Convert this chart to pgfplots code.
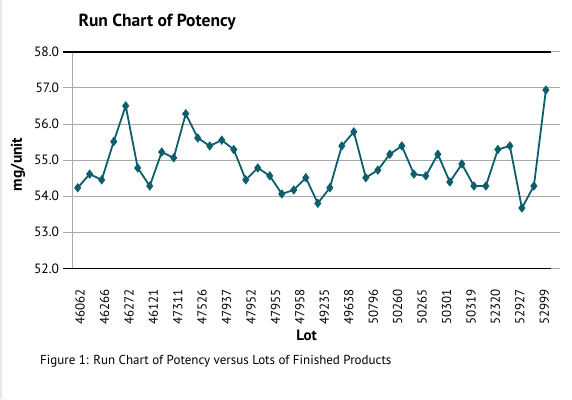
\documentclass[border=0pt]{standalone}
\usepackage{fontspec}
\setmainfont{PT Sans}
\usepackage{pgfplots}
\pgfplotsset{compat=1.18}
\definecolor{tealA}{RGB}{12,94,106}
\definecolor{gridG}{RGB}{170,170,170}
\pgfplotstableread{
i v
0 54.23
1 54.61
2 54.45
3 55.51
4 56.50
5 54.78
6 54.28
7 55.22
8 55.06
9 56.28
10 55.61
11 55.39
12 55.55
13 55.29
14 54.45
15 54.78
16 54.56
17 54.06
18 54.17
19 54.51
20 53.80
21 54.23
22 55.39
23 55.78
24 54.51
25 54.72
26 55.16
27 55.39
28 54.61
29 54.56
30 55.16
31 54.39
32 54.89
33 54.28
34 54.28
35 55.29
36 55.39
37 53.67
38 54.28
39 56.94
}\potency
\begin{document}
\begin{tikzpicture}[x=1pt,y=1pt]
\useasboundingbox (0,0) rectangle (572,399);
\draw[gray!18, line width=1.5pt] (1,0) -- (1,399);
\begin{axis}[
  at={(72.3pt,130.7pt)}, anchor=south west,
  scale only axis, width=478.4pt, height=216.6pt,
  xmin=-0.45, xmax=39.4, ymin=52, ymax=58,
  axis line style={draw=none},
  ytick={52,53,54,55,56,57,58},
  ymajorgrids, grid style={gridG, line width=0.8pt},
  tick align=outside, major tick length=9pt,
  ytick style={gridG, line width=0.8pt},
  xtick style={draw=none},
  /pgf/number format/assume math mode=true,
  yticklabel style={/pgf/number format/fixed, /pgf/number format/fixed zerofill, /pgf/number format/precision=1},
  yticklabel style={font=\fontsize{13.5}{15}\selectfont, inner sep=0pt, xshift=-4pt},
  xtick={0.2,2.23,4.27,6.30,8.34,10.37,12.41,14.44,16.48,18.51,20.55,22.58,24.62,26.65,28.69,30.72,32.76,34.79,36.83,38.86},
  xticklabels={46062,46266,46272,46121,47311,47526,47937,47952,47955,47958,49235,49638,50796,50260,50265,50301,50319,52320,52927,52999},
  xticklabel style={rotate=90, anchor=east, inner sep=0pt, font=\fontsize{13}{15}\selectfont},
  xticklabel shift=12pt,
  xlabel={\textbf{Lot}},
  xlabel style={at={(axis description cs:0.49,-0.31)}, anchor=center, font=\fontsize{15}{17}\selectfont},
  ylabel={\textbf{mg/unit}},
  ylabel style={at={(axis description cs:-0.1135,0.48)}, anchor=center, rotate=0, font=\fontsize{15.5}{17}\selectfont},
  title={\textbf{Run Chart of Potency}},
  title style={at={(axis description cs:0.0056,1.109)}, anchor=west, font=\fontsize{17.5}{19}\selectfont},
  clip=false,
]
\draw[gridG, line width=0.8pt] (rel axis cs:0,0) -- (rel axis cs:0,1);
\draw[black, line width=1.6pt] ([xshift=-9pt]rel axis cs:0,1) -- (rel axis cs:1,1);
\draw[black, line width=1.6pt] ([xshift=-9pt]rel axis cs:0,0) -- (rel axis cs:1,0);
\addplot[tealA, line width=1.8pt, mark=diamond*, mark size=4.3pt, mark options={fill=tealA, line width=0.5pt}] table[x=i, y=v] {\potency};
\end{axis}
\node[anchor=west, inner sep=0pt, font=\fontsize{13}{15}\selectfont] at (40,38) {Figure 1: Run Chart of Potency versus Lots of Finished Products};
\end{tikzpicture}
\end{document}
